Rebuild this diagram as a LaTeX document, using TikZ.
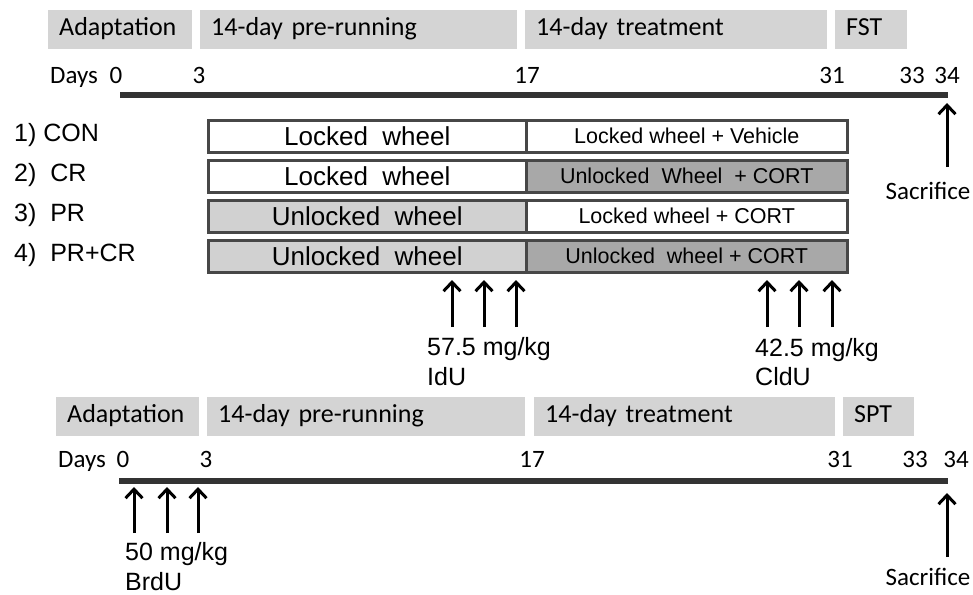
\documentclass[tikz,border=0pt]{standalone}
\usepackage{fontspec}
\setmainfont{Liberation Sans}
\newfontfamily\calibri{Carlito}
\usepackage{tikz}
\tikzset{>=latex}
\usetikzlibrary{arrows.meta, positioning}
\definecolor{phasegrey}{gray}{0.83}
\definecolor{prerun}{gray}{0.82}
\definecolor{treatrun}{gray}{0.66}
\definecolor{boxline}{gray}{0.28}
\def\rowtop{119}
\def\rowstep{40}
\def\lowtop{397}

\begin{document}
\begin{tikzpicture}[x=1pt, y=-1pt,
    phase/.style={fill=phasegrey, inner xsep=11pt, inner ysep=0pt, minimum height=39pt,
        text height=17pt, text depth=6pt,
        anchor=north west, align=left, font=\calibri\fontsize{26}{29}\selectfont},
    wheelbox/.style={draw=boxline, line width=2.5pt, minimum height=32pt, inner sep=0pt,
        anchor=north west},
    timeline/.style={line width=5.5pt, draw=black!80},
    inject/.style={-{Straight Barb[length=9pt,width=17pt]}, line width=3pt},
    daytext/.style={anchor=base, font=\calibri\fontsize{25}{28}\selectfont},
    dose/.style={anchor=base west, inner sep=0pt, font=\fontsize{25}{28}\selectfont},
]
\useasboundingbox (0,0) rectangle (973,594);

% Top experiment

\foreach \name/\xa/\xb/\txt in {adapt/48/192/Adaptation, pre/200/517/14-day pre-running,
    treat/525/827/14-day treatment, fst/835/907/FST}{
    \pgfmathsetmacro{\textw}{\xb - \xa - 22}
    \node[phase, text width=\textw pt] (\name_top) at (\xa, 10) {\txt};
}

\node[daytext, anchor=base west, inner sep=0pt] (days_top) at (50, 83) {Days};
\foreach \d/\x in {0/116, 3/199, 17/527, 31/832, 33/912, 34/947}{
    \node[daytext] (day_top_\d) at (\x, 83) {\d};
}

\coordinate (line_top_start) at (120, 95);
\coordinate (line_top_end) at (948, 95);
\draw[timeline] (line_top_start) -- (line_top_end);

% Groups
\foreach \i/\grp/\ltxt/\lfill/\rtxt/\rfill in {
    1/1) CON/Locked~ wheel/white/Locked wheel + Vehicle/white,
    2/2)~ CR/Locked~ wheel/white/Unlocked~ Wheel~ + CORT/treatrun,
    3/3)~ PR/Unlocked~ wheel/prerun/Locked wheel + CORT/white,
    4/4)~ PR+CR/Unlocked~ wheel/prerun/Unlocked~ wheel + CORT/treatrun}{
    \pgfmathsetmacro{\ytop}{\rowtop + (\i - 1) * \rowstep}
    \node[wheelbox, fill=\lfill, minimum width=318pt, font=\fontsize{26}{29}\selectfont]
        (pre_row_\i) at (207, \ytop) {\ltxt};
    \node[wheelbox, fill=\rfill, minimum width=321pt, font=\fontsize{21.5}{24}\selectfont]
        (treat_row_\i) at (525, \ytop) {\rtxt};
    \node[anchor=west, inner sep=0pt, font=\fontsize{25}{28}\selectfont]
        (group_\i) at (14, \ytop + 16) {\grp};
}

% IdU and CldU
\foreach \x in {452, 484, 516}{
    \coordinate (idu_base_\x) at (\x, 327);
    \coordinate (idu_tip_\x) at (\x, 280);
    \draw[inject] (idu_base_\x) -- (idu_tip_\x);
}
\node[dose] (idu_dose) at (427, 355) {57.5 mg/kg};
\node[dose] (idu_name) at (427, 385) {IdU};

\foreach \x in {767, 799, 832}{
    \coordinate (cldu_base_\x) at (\x, 327);
    \coordinate (cldu_tip_\x) at (\x, 280);
    \draw[inject] (cldu_base_\x) -- (cldu_tip_\x);
}
\node[dose] (cldu_dose) at (755, 356) {42.5 mg/kg};
\node[dose] (cldu_name) at (755, 385) {CldU};

\coordinate (sac_top_base) at (947, 167);
\coordinate (sac_top_tip) at (947, 103);
\draw[inject] (sac_top_base) -- (sac_top_tip);
\node[daytext] (sac_top) at (928, 199) {Sacrifice};

% Bottom experiment

\foreach \name/\xa/\xb/\txt in {adapt/56/199/Adaptation, pre/207/525/14-day pre-running,
    treat/534/835/14-day treatment, spt/843/914/SPT}{
    \pgfmathsetmacro{\textw}{\xb - \xa - 22}
    \node[phase, text width=\textw pt] (\name_low) at (\xa, \lowtop) {\txt};
}

\node[daytext, anchor=base west, inner sep=0pt] (days_low) at (58, 467) {Days};
\foreach \d/\x in {0/123, 3/206, 17/532, 31/840, 33/915, 34/956}{
    \node[daytext] (day_low_\d) at (\x, 467) {\d};
}

\coordinate (line_low_start) at (119, 481);
\coordinate (line_low_end) at (948, 481);
\draw[timeline] (line_low_start) -- (line_low_end);

\foreach \x in {134, 167, 198}{
    \coordinate (brdu_base_\x) at (\x, 533);
    \coordinate (brdu_tip_\x) at (\x, 487);
    \draw[inject] (brdu_base_\x) -- (brdu_tip_\x);
}
\node[dose] (brdu_dose) at (125, 560) {50 mg/kg};
\node[dose] (brdu_name) at (125, 590) {BrdU};

\coordinate (sac_low_base) at (947, 557);
\coordinate (sac_low_tip) at (947, 493);
\draw[inject] (sac_low_base) -- (sac_low_tip);
\node[daytext] (sac_low) at (928, 585) {Sacrifice};

\end{tikzpicture}
\end{document}
